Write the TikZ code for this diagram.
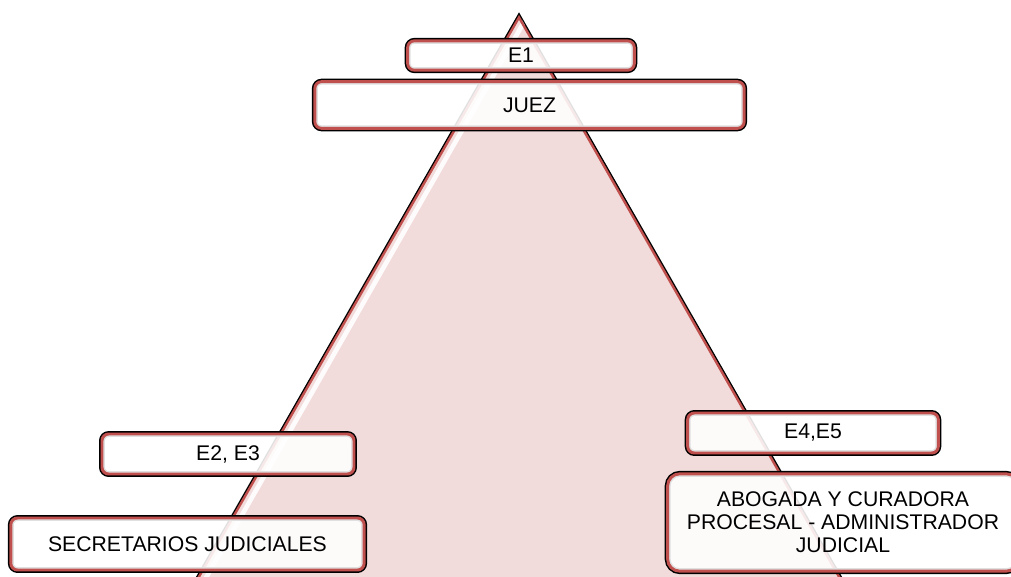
\documentclass[tikz,border=0pt]{standalone}
\usepackage{fontspec}
\setmainfont{Liberation Sans}
\definecolor{boxred}{HTML}{C0504D}
\definecolor{tripink}{HTML}{F2DCDB}
\tikzset{
  lvl/.style={rectangle, rounded corners=5pt, fill=white, fill opacity=0.88, text opacity=1,
    draw=boxred, line width=2.2pt,
    preaction={draw=black, fill=none, line width=4.4pt, draw opacity=1},
    align=center, font=\fontsize{15.9}{17.3}\selectfont, inner sep=2pt},
}
\begin{document}
\begin{tikzpicture}[x=0.75pt,y=-0.75pt]
\useasboundingbox (0,0) rectangle (1011,576);
\clip (0,0) rectangle (1011,576);
\coordinate (apex) at (519,15);
\coordinate (bl) at (184.3,600);
\coordinate (br) at (853.7,600);
\fill[tripink] (apex) -- (bl) -- (br) -- cycle;
\draw[black, line width=2pt] (apex) -- (bl) -- (br) -- cycle;
\begin{scope}
  \clip (apex) -- (bl) -- (br) -- cycle;
  \draw[white, line width=3.5pt, opacity=0.9] (528,15) -- (193.3,600);
  \draw[boxred, line width=3.6pt] (apex) -- (bl) -- (br) -- cycle;
\end{scope}
\node[lvl, minimum width=170pt, minimum height=22pt] (e1) at (521,55.5) {E1};
\node[lvl, minimum width=322pt, minimum height=35pt] (juez) at (529.5,105) {JUEZ};
\node[lvl, minimum width=189pt, minimum height=30pt] (e23) at (228,454) {E2, E3};
\node[lvl, minimum width=265pt, minimum height=39pt] (sec) at (187.5,544) {SECRETARIOS JUDICIALES};
\node[lvl, minimum width=188pt, minimum height=30pt] (e45) at (813,433) {E4,E5};
\node[lvl, rounded corners=9pt, minimum width=263pt, minimum height=73pt] (abo) at (843,522.5) {ABOGADA Y CURADORA\\PROCESAL - ADMINISTRADOR\\JUDICIAL};
\end{tikzpicture}
\end{document}
